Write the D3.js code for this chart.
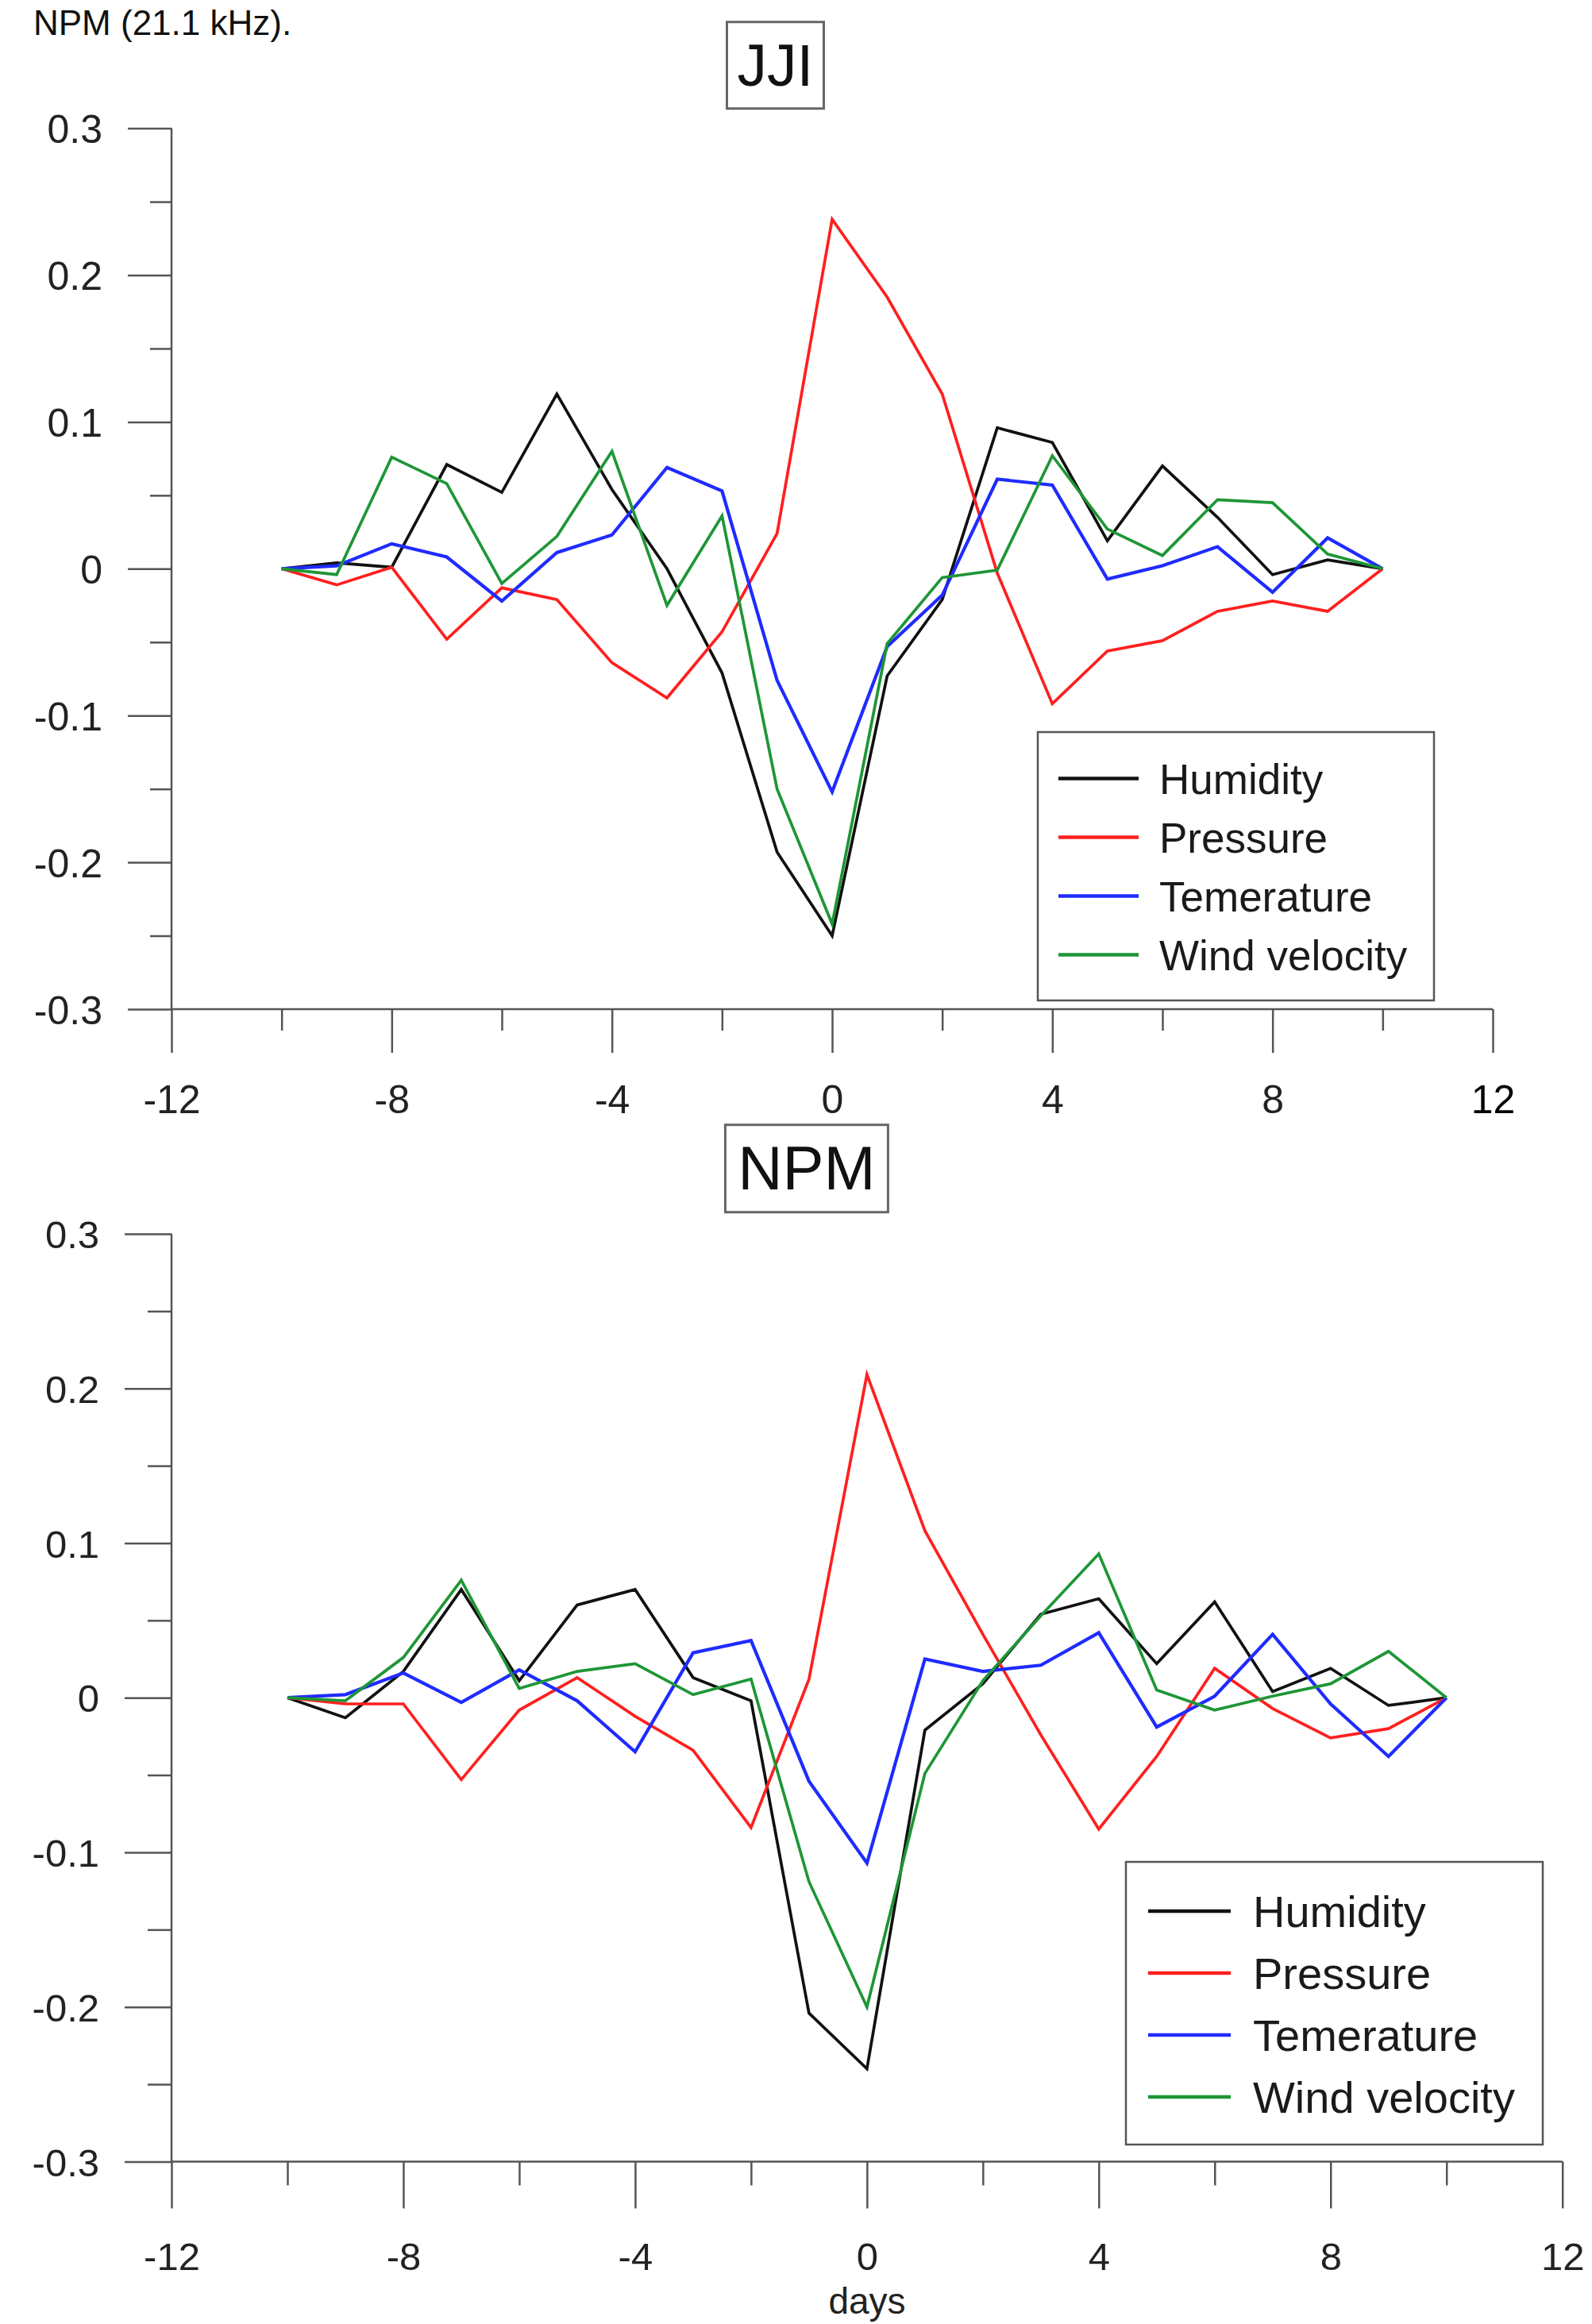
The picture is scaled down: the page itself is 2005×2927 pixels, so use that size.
<!DOCTYPE html>
<html>
<head>
<meta charset="utf-8">
<script src="https://cdn.jsdelivr.net/npm/d3@7"></script>
<style>
  html, body { margin: 0; padding: 0; background: #fff; }
  svg { display: block; font-family: "Liberation Sans", Arial, sans-serif; }
</style>
</head>
<body>
<svg id="chart" width="2005" height="2927"></svg>
<script>
// ---- data ----
const days = [-10, -9, -8, -7, -6, -5, -4, -3, -2, -1, 0, 1, 2, 3, 4, 5, 6, 7, 8, 9, 10];
const seriesNames = ["Humidity", "Pressure", "Temerature", "Wind velocity"];
const seriesColors = ["#111111", "#ff1f1f", "#1f2bff", "#1e9636"];

const xMajorTicks = [-12, -8, -4, 0, 4, 8, 12];
const xMinorTicks = [-10, -6, -2, 2, 6, 10];
const yMajorTicks = [0.3, 0.2, 0.1, 0, -0.1, -0.2, -0.3];
const yMinorTicks = [0.25, 0.15, 0.05, -0.05, -0.15, -0.25];

// JJI
const jjiHumidity = [0, 0.004, 0.001, 0.071, 0.052, 0.119, 0.054, 0, -0.071, -0.193, -0.25,
  -0.073, -0.021, 0.096, 0.086, 0.019, 0.07, 0.035, -0.004, 0.006, 0];
const jjiPressure = [0, -0.011, 0.001, -0.048, -0.013, -0.021, -0.064, -0.088, -0.043, 0.024, 0.238,
  0.185, 0.119, -0.003, -0.092, -0.056, -0.049, -0.029, -0.022, -0.029, 0];
const jjiTemperature = [0, 0.002, 0.017, 0.008, -0.022, 0.011, 0.023, 0.069, 0.053, -0.076, -0.152,
  -0.053, -0.018, 0.061, 0.057, -0.007, 0.002, 0.015, -0.016, 0.021, 0];
const jjiWind = [0, -0.004, 0.076, 0.058, -0.01, 0.022, 0.08, -0.025, 0.036, -0.15, -0.242,
  -0.051, -0.006, -0.001, 0.077, 0.027, 0.009, 0.047, 0.045, 0.01, 0];

// NPM
const npmHumidity = [0, -0.013, 0.017, 0.07, 0.011, 0.06, 0.07, 0.013, -0.002, -0.204, -0.24,
  -0.021, 0.009, 0.054, 0.064, 0.022, 0.062, 0.004, 0.019, -0.005, 0];
const npmPressure = [0, -0.004, -0.004, -0.053, -0.008, 0.013, -0.012, -0.034, -0.084, 0.012, 0.209,
  0.108, 0.041, -0.024, -0.085, -0.038, 0.019, -0.007, -0.026, -0.02, 0];
const npmTemperature = [0, 0.002, 0.016, -0.003, 0.018, -0.002, -0.035, 0.029, 0.037, -0.054, -0.107,
  0.025, 0.017, 0.021, 0.042, -0.019, 0.001, 0.041, -0.004, -0.038, 0];
const npmWind = [0, -0.002, 0.026, 0.076, 0.006, 0.017, 0.022, 0.002, 0.012, -0.119, -0.2,
  -0.049, 0.011, 0.053, 0.093, 0.005, -0.008, 0.001, 0.009, 0.03, 0];

// ---- layout ----
const panels = [
  {
    title: "JJI", series: [jjiHumidity, jjiPressure, jjiTemperature, jjiWind],
    x0: 216, x1: 1880, yTop: 161.6, yBot: 1271,
    box: { x: 915.5, y: 27.7, w: 122, h: 109, size: 75, base: 108 },
    legend: { x: 1307, y: 922, w: 499, h: 338, row0: 980.6, dy: 74, lx0: 1333, lx1: 1434, tx: 1460, size: 53 },
    major: 55, minor: 27, labelBase: 131, font: 50
  },
  {
    title: "NPM", series: [npmHumidity, npmPressure, npmTemperature, npmWind],
    x0: 216, x1: 1967.7, yTop: 1554, yBot: 2722.4,
    box: { x: 913.4, y: 1416.7, w: 205, h: 110, size: 78, base: 1498 },
    legend: { x: 1418, y: 2345, w: 525, h: 356, row0: 2407, dy: 78, lx0: 1446, lx1: 1550, tx: 1578, size: 56 },
    major: 59, minor: 30, labelBase: 137, font: 49
  }
];

const svg = d3.select("#chart");

// caption line above the figure
svg.append("text")
  .attr("x", 42).attr("y", 44)
  .attr("font-size", 44).attr("fill", "#111")
  .text("NPM (21.1 kHz).");

const axisColor = "#555";

panels.forEach((p) => {
  const x = d3.scaleLinear().domain([-12, 12]).range([p.x0, p.x1]);
  const y = d3.scaleLinear().domain([-0.3, 0.3]).range([p.yBot, p.yTop]);
  const g = svg.append("g");

  // x axis: major ticks with labels, minor ticks without
  const xAxis = g.append("g")
    .attr("transform", `translate(0,${p.yBot})`)
    .call(d3.axisBottom(x).tickValues(xMajorTicks).tickSize(p.major).tickSizeOuter(0).tickPadding(0)
      .tickFormat((d) => String(d)));
  xAxis.select(".domain").remove();
  xAxis.selectAll("text")
    .attr("y", p.labelBase).attr("dy", 0)
    .attr("font-size", p.font).attr("font-family", "Liberation Sans, Arial, sans-serif")
    .attr("fill", (d) => (d === 12 && p.title === "JJI" ? "#000" : "#222"));
  g.append("g")
    .attr("transform", `translate(0,${p.yBot})`)
    .call(d3.axisBottom(x).tickValues(xMinorTicks).tickSize(p.minor).tickSizeOuter(0).tickFormat(""))
    .select(".domain").remove();

  // y axis
  const yAxis = g.append("g")
    .attr("transform", `translate(${p.x0},0)`)
    .call(d3.axisLeft(y).tickValues(yMajorTicks).tickSize(p.major).tickSizeOuter(0).tickPadding(0)
      .tickFormat((d) => (d === 0 ? "0" : d.toFixed(1))));
  yAxis.select(".domain").remove();
  yAxis.selectAll("text")
    .attr("x", -(p.major + 32)).attr("dy", "0.36em")
    .attr("font-size", p.font).attr("font-family", "Liberation Sans, Arial, sans-serif")
    .attr("fill", "#222");
  g.append("g")
    .attr("transform", `translate(${p.x0},0)`)
    .call(d3.axisLeft(y).tickValues(yMinorTicks).tickSize(p.minor).tickSizeOuter(0).tickFormat(""))
    .select(".domain").remove();

  // axis lines
  g.append("line")
    .attr("x1", x(-12)).attr("x2", x(12))
    .attr("y1", y(-0.3)).attr("y2", y(-0.3));
  g.append("line")
    .attr("x1", x(-12)).attr("x2", x(-12))
    .attr("y1", y(0.3)).attr("y2", y(-0.3));
  g.selectAll("line").attr("stroke", axisColor).attr("stroke-width", 2.5);

  // series lines
  const line = d3.line()
    .x((d, i) => x(days[i]))
    .y((d) => y(d));
  g.selectAll("path.series")
    .data(p.series)
    .enter()
    .append("path")
    .attr("class", "series")
    .attr("d", line)
    .attr("fill", "none")
    .attr("stroke", (d, i) => seriesColors[i])
    .attr("stroke-width", (d, i) => (i === 2 ? 4.2 : 3.7))
    .attr("stroke-linejoin", "miter");

  // title box
  g.append("rect")
    .attr("x", p.box.x).attr("y", p.box.y)
    .attr("width", p.box.w).attr("height", p.box.h)
    .attr("fill", "#fff").attr("stroke", "#666").attr("stroke-width", 3);
  g.append("text")
    .attr("x", p.box.x + p.box.w / 2).attr("y", p.box.base)
    .attr("text-anchor", "middle")
    .attr("font-size", p.box.size).attr("fill", "#111")
    .text(p.title);

  // legend
  const lg = p.legend;
  g.append("rect")
    .attr("x", lg.x).attr("y", lg.y)
    .attr("width", lg.w).attr("height", lg.h)
    .attr("fill", "#fff").attr("stroke", "#555").attr("stroke-width", 2.5);
  seriesNames.forEach((name, i) => {
    const ry = lg.row0 + i * lg.dy;
    g.append("line")
      .attr("x1", lg.lx0).attr("x2", lg.lx1)
      .attr("y1", ry).attr("y2", ry)
      .attr("stroke", seriesColors[i]).attr("stroke-width", 4.5);
    g.append("text")
      .attr("x", lg.tx).attr("y", ry).attr("dy", "0.36em")
      .attr("font-size", lg.size).attr("fill", "#1a1a1a")
      .text(name);
  });
});

// x axis title under the lower panel
svg.append("text")
  .attr("x", 1092).attr("y", 2914)
  .attr("text-anchor", "middle")
  .attr("font-size", 46).attr("fill", "#222")
  .text("days");
</script>
</body>
</html>
